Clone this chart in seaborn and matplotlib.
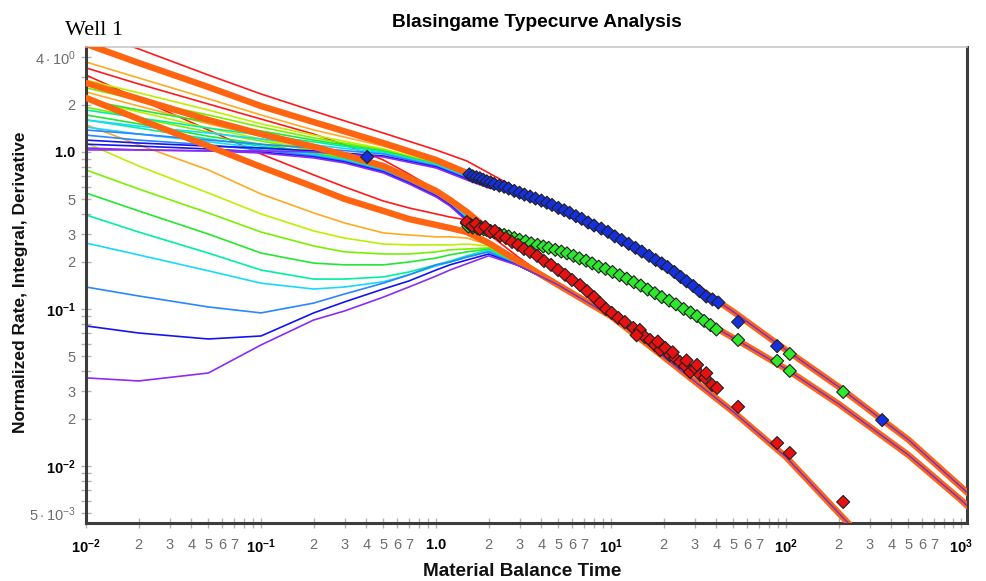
import matplotlib
matplotlib.use("Agg")
import matplotlib.pyplot as plt
import pandas as pd
import seaborn as sns
from matplotlib.ticker import FixedLocator, FixedFormatter

# ------------------------------------------------------------------ data
curve_names = ["red", "orange", "yellowgreen", "chartreuse", "green",
               "springgreen", "cyan", "azure", "blue", "violet"]
curve_colors = ["#ff1a1a", "#ffaa22", "#bdf000", "#78f000", "#22e830",
                "#00f0a0", "#18d8ff", "#2a86ff", "#1414f0", "#8c2cf0"]
match_color = "#ff6410"

# rate-integral type curves (upper stem)
integral_t = [0.01, 0.02, 0.05, 0.1, 0.2, 0.5, 1.0, 1.5, 2.0, 3.0]
integral_q = [
    [5.98, 4.53, 3.09, 2.34, 1.82, 1.32, 1.03, 0.876, 0.735, 0.573],
    [3.74, 2.96, 2.18, 1.72, 1.38, 1.09, 0.864, 0.714, 0.635, 0.548],
    [2.87, 2.38, 1.85, 1.51, 1.28, 1.045, 0.851, 0.714, 0.635, 0.548],
    [2.56, 2.14, 1.72, 1.44, 1.23, 1.03, 0.839, 0.703, 0.626, 0.548],
    [2.14, 1.85, 1.55, 1.36, 1.19, 1.015, 0.839, 0.703, 0.626, 0.548],
    [1.85, 1.65, 1.42, 1.28, 1.16, 1.0, 0.826, 0.693, 0.616, 0.548],
    [1.60, 1.46, 1.32, 1.21, 1.11, 0.985, 0.826, 0.693, 0.616, 0.548],
    [1.38, 1.30, 1.19, 1.12, 1.06, 0.971, 0.814, 0.683, 0.607, 0.548],
    [1.19, 1.14, 1.09, 1.06, 1.015, 0.943, 0.803, 0.673, 0.599, 0.548],
    [1.03, 1.03, 1.015, 1.015, 1.0, 0.929, 0.791, 0.663, 0.590, 0.548],
]
integral_match_q = [4.87, 3.69, 2.59, 1.96, 1.55, 1.14, 0.889, 0.735, 0.654, 0.548]
integral_stem_t = [5, 10, 20, 50, 100, 200, 500, 1000, 1100]
integral_stem_q = [0.44, 0.30, 0.191, 0.096, 0.0548, 0.0319, 0.0147, 0.00735, 0.00668]

# rate type curves (middle stem)
rate_t = [0.01, 0.02, 0.05, 0.1, 0.2, 0.3, 0.5, 0.7, 1.0, 1.2, 1.5, 2.0]
rate_q = [
    [3.43, 2.71, 2.02, 1.62, 1.30, 1.11, 0.889, 0.724, 0.573, 0.495, 0.403, 0.319],
    [2.41, 1.96, 1.51, 1.26, 1.06, 0.943, 0.803, 0.673, 0.556, 0.487, 0.409, 0.319],
    [2.14, 1.80, 1.42, 1.21, 1.03, 0.929, 0.791, 0.663, 0.548, 0.480, 0.403, 0.319],
    [1.93, 1.65, 1.34, 1.175, 1.015, 0.916, 0.779, 0.663, 0.548, 0.480, 0.397, 0.319],
    [1.72, 1.51, 1.26, 1.12, 0.985, 0.902, 0.768, 0.654, 0.540, 0.473, 0.391, 0.319],
    [1.60, 1.42, 1.21, 1.09, 0.971, 0.889, 0.768, 0.654, 0.540, 0.473, 0.385, 0.319],
    [1.44, 1.30, 1.16, 1.06, 0.957, 0.889, 0.757, 0.644, 0.532, 0.466, 0.380, 0.319],
    [1.28, 1.19, 1.11, 1.03, 0.943, 0.876, 0.757, 0.644, 0.532, 0.460, 0.374, 0.319],
    [1.12, 1.09, 1.045, 1.0, 0.929, 0.864, 0.746, 0.635, 0.524, 0.460, 0.369, 0.319],
    [1.06, 1.03, 1.015, 0.985, 0.916, 0.851, 0.735, 0.626, 0.517, 0.453, 0.363, 0.319],
]
rate_match_q = [2.75, 2.18, 1.60, 1.30, 1.08, 0.957, 0.814, 0.683, 0.565, 0.495, 0.415, 0.319]
rate_stem_t = [3, 5, 10, 20, 50, 100, 200, 500, 1000, 1100]
rate_stem_q = [0.275, 0.234, 0.172, 0.1175, 0.0654, 0.0415, 0.0248, 0.01175, 0.00607, 0.0055]

# rate-integral-derivative type curves (lower stem)
deriv_t = [0.01, 0.02, 0.05, 0.1, 0.2, 0.3, 0.5, 0.7, 1.0, 1.2, 1.5, 2.0, 3.0]
deriv_q = [
    [3.09, 2.18, 1.38, 0.971, 0.714, 0.599, 0.487, 0.440, 0.403, 0.385, 0.369, 0.300, 0.211],
    [1.49, 1.11, 0.768, 0.540, 0.409, 0.353, 0.305, 0.296, 0.288, 0.288, 0.283, 0.256, 0.188],
    [1.14, 0.814, 0.548, 0.403, 0.314, 0.283, 0.259, 0.256, 0.256, 0.256, 0.259, 0.252, 0.188],
    [0.768, 0.581, 0.409, 0.309, 0.252, 0.231, 0.224, 0.224, 0.231, 0.238, 0.241, 0.245, 0.188],
    [0.548, 0.421, 0.300, 0.227, 0.196, 0.191, 0.191, 0.199, 0.211, 0.221, 0.231, 0.241, 0.188],
    [0.397, 0.309, 0.227, 0.177, 0.155, 0.155, 0.160, 0.172, 0.191, 0.202, 0.218, 0.238, 0.188],
    [0.263, 0.221, 0.175, 0.146, 0.134, 0.138, 0.149, 0.165, 0.188, 0.199, 0.214, 0.234, 0.188],
    [0.138, 0.121, 0.103, 0.0944, 0.109, 0.1246, 0.146, 0.165, 0.191, 0.199, 0.214, 0.231, 0.188],
    [0.078, 0.0703, 0.0644, 0.0673, 0.0944, 0.1109, 0.134, 0.1508, 0.177, 0.191, 0.205, 0.224, 0.188],
    [0.0364, 0.0348, 0.0391, 0.059, 0.0851, 0.0971, 0.119, 0.138, 0.162, 0.177, 0.194, 0.218, 0.188],
]
deriv_match_q = [2.21, 1.62, 1.09, 0.803, 0.599, 0.502, 0.421, 0.374, 0.343, 0.328, 0.309, 0.263, 0.199]
deriv_stem_t = [5, 10, 20, 50, 100, 200, 300]
deriv_stem_q = [0.142, 0.090, 0.0495, 0.0221, 0.0114, 0.00501, 0.0031]

# measured well data
integral_data_t = [0.404, 1.55, 1.62, 1.7, 1.78, 1.86, 1.95, 2.05, 2.15, 2.3, 2.45,
                   2.6, 2.8, 3.0, 3.2, 3.45, 3.7, 4.0, 4.3, 4.6, 5.0,
                   5.4, 5.8, 6.3, 6.8, 7.4, 8.0, 8.8, 9.6, 10.5, 11.5,
                   12.6, 13.8, 15.0, 16.5, 18, 19.5, 21, 23, 25, 27,
                   29.5, 32, 35, 38, 41, 53.2, 88.9, 354]
integral_data_q = [0.929, 0.72, 0.70, 0.69, 0.68, 0.665, 0.65, 0.64, 0.625, 0.61, 0.60,
                   0.585, 0.565, 0.55, 0.535, 0.52, 0.505, 0.49, 0.475, 0.46, 0.44,
                   0.425, 0.41, 0.39, 0.375, 0.355, 0.34, 0.325, 0.31, 0.29, 0.275,
                   0.26, 0.245, 0.232, 0.218, 0.205, 0.195, 0.185, 0.172, 0.16, 0.15,
                   0.14, 0.13, 0.12, 0.115, 0.11, 0.0826, 0.058, 0.0196]
rate_data_t = [1.50, 1.53, 1.57, 1.62, 1.67, 1.73, 1.80, 1.87, 1.95,
               2.05, 2.15, 2.3, 2.45, 2.6, 2.8, 3.0, 3.25, 3.5, 3.8,
               4.1, 4.4, 4.8, 5.2, 5.6, 6.1, 6.6, 7.2, 7.8, 8.5,
               9.3, 10.2, 11.2, 12.3, 13.5, 14.8, 16.2, 17.8, 19.5, 21.5,
               23.5, 26, 28.5, 31, 34, 37, 40, 53.2, 88.9, 105, 105, 212]
rate_data_q = [0.352, 0.335, 0.345, 0.33, 0.338, 0.326, 0.332, 0.322, 0.318,
               0.314, 0.308, 0.30, 0.296, 0.29, 0.283, 0.276, 0.27, 0.262, 0.256,
               0.25, 0.245, 0.238, 0.232, 0.226, 0.218, 0.21, 0.203, 0.195, 0.186,
               0.18, 0.172, 0.164, 0.156, 0.148, 0.141, 0.133, 0.126, 0.119, 0.113,
               0.107, 0.10, 0.095, 0.09, 0.084, 0.079, 0.074, 0.0635, 0.0467, 0.0517, 0.0403, 0.0296]
deriv_data_t = [1.50, 1.61, 1.69, 1.78, 1.91, 2.04, 2.17, 2.32, 2.51, 2.72,
                2.94, 3.18, 3.44, 3.78, 4.14, 4.54, 4.98, 5.46, 5.98, 6.65,
                7.29, 8.00, 8.65, 9.36, 10.1, 11.0, 12.0, 13.4, 14.6, 15.6,
                16.7, 17.8, 19.1, 20.4, 21.7, 23.2, 24.8, 26.5, 28.3, 30.2,
                32.3, 34.4, 37.8, 40.3, 14.0, 18.5, 22.5, 27.0, 31.0, 35.0,
                53.2, 88.9, 105, 212]
deriv_data_q = [0.358, 0.338, 0.348, 0.323, 0.333, 0.309, 0.314, 0.292, 0.283, 0.267,
                0.256, 0.241, 0.231, 0.218, 0.202, 0.191, 0.177, 0.165, 0.153, 0.142,
                0.130, 0.119, 0.109, 0.100, 0.0944, 0.0877, 0.0826, 0.0757, 0.0735, 0.0664,
                0.0635, 0.059, 0.0548, 0.0565, 0.0509, 0.0488, 0.0459, 0.0433, 0.0397, 0.0421,
                0.038, 0.0364, 0.0328, 0.0314, 0.068, 0.062, 0.053, 0.047, 0.044, 0.039,
                0.0238, 0.0140, 0.0121, 0.0059]
data_colors = {"integral": "#1530e0", "rate": "#2ee82e", "derivative": "#e81010"}

# tick labels
x_major = [0.01, 0.1, 1.0, 10, 100, 1000]
x_major_labels = [r"$\mathbf{10^{-2}}$", r"$\mathbf{10^{-1}}$", r"$\mathbf{1.0}$",
                  r"$\mathbf{10^{1}}$", r"$\mathbf{10^{2}}$", r"$\mathbf{10^{3}}$"]
minor_digits = [2, 3, 4, 5, 6, 7, 8, 9]
x_minor_digit_labels = ["2", "3", "4", "5", "6", "7", "", ""]
y_major = [0.01, 0.1, 1.0]
y_major_labels = [r"$\mathbf{10^{-2}}$", r"$\mathbf{10^{-1}}$", r"$\mathbf{1.0}$"]
y_minor = [0.005, 0.006, 0.007, 0.008, 0.009,
           0.02, 0.03, 0.04, 0.05, 0.06, 0.07, 0.08, 0.09,
           0.2, 0.3, 0.4, 0.5, 0.6, 0.7, 0.8, 0.9,
           2, 3, 4]
y_minor_labels = [r"$5\cdot10^{-3}$", "", "", "", "",
                  "2", "3", "", "5", "", "", "", "",
                  "2", "3", "", "5", "", "", "", "",
                  "2", "", r"$4\cdot10^{0}$"]

# ------------------------------------------------------------------ frames
rows = []
for fam, ts, qs, st, sq in [("integral", integral_t, integral_q, integral_stem_t, integral_stem_q),
                            ("rate", rate_t, rate_q, rate_stem_t, rate_stem_q),
                            ("derivative", deriv_t, deriv_q, deriv_stem_t, deriv_stem_q)]:
    for name, q in zip(curve_names, qs):
        for t, v in zip(list(ts) + list(st), list(q) + list(sq)):
            rows.append((fam, name, t, v))
thin = pd.DataFrame(rows, columns=["family", "curve", "t", "q"])

rows = []
for fam, ts, q, st, sq in [("integral", integral_t, integral_match_q, integral_stem_t, integral_stem_q),
                           ("rate", rate_t, rate_match_q, rate_stem_t, rate_stem_q),
                           ("derivative", deriv_t, deriv_match_q, deriv_stem_t, deriv_stem_q)]:
    for t, v in zip(list(ts) + list(st), list(q) + list(sq)):
        rows.append((fam, t, v))
thick = pd.DataFrame(rows, columns=["family", "t", "q"])

rows = []
for fam, st, sq in [("integral", [3.0] + integral_stem_t, [0.548] + integral_stem_q),
                    ("rate", [2.0] + rate_stem_t, [0.319] + rate_stem_q),
                    ("derivative", [3.0] + deriv_stem_t, [0.188] + deriv_stem_q)]:
    for t, v in zip(st, sq):
        rows.append((fam, t, v))
stems = pd.DataFrame(rows, columns=["family", "t", "q"])

pts = pd.concat([
    pd.DataFrame({"t": integral_data_t, "q": integral_data_q, "series": "integral"}),
    pd.DataFrame({"t": rate_data_t, "q": rate_data_q, "series": "rate"}),
    pd.DataFrame({"t": deriv_data_t, "q": deriv_data_q, "series": "derivative"}),
], ignore_index=True)

# ------------------------------------------------------------------ plot
sns.set_theme(style="white")
plt.rcParams["font.family"] = ["Liberation Sans", "DejaVu Sans"]
plt.rcParams["mathtext.fontset"] = "custom"
plt.rcParams["mathtext.rm"] = "Liberation Sans"
plt.rcParams["mathtext.it"] = "Liberation Sans:italic"
plt.rcParams["mathtext.bf"] = "Liberation Sans:bold"

fig = plt.figure(figsize=(9.86, 5.81), dpi=100)
W, H = 986, 581
ax = fig.add_axes([86 / W, 1 - 523 / H, (967 - 86) / W, (523 - 47) / H])

palette = dict(zip(curve_names, curve_colors))
sns.lineplot(data=thin, x="t", y="q", hue="curve", units="family", estimator=None,
             palette=palette, linewidth=1.2, legend=False, ax=ax, zorder=2)
sns.lineplot(data=thick, x="t", y="q", units="family", estimator=None,
             color=match_color, linewidth=4.6, legend=False, ax=ax, zorder=3)
sns.lineplot(data=stems, x="t", y="q", units="family", estimator=None,
             color="#6a30e8", linewidth=1.0, legend=False, ax=ax, zorder=4)
sns.scatterplot(data=pts, x="t", y="q", hue="series", palette=data_colors,
                marker="D", s=44, edgecolor="#202020", linewidth=0.8,
                legend=False, ax=ax, zorder=5)

ax.set_xscale("log")
ax.set_yscale("log")
ax.set_xlim(0.01, 1081)
ax.set_ylim(0.004335, 4.66)

x_minor = []
x_minor_labels = []
for dec in x_major[:-1]:
    for d, lab in zip(minor_digits, x_minor_digit_labels):
        x_minor.append(d * dec)
        x_minor_labels.append(lab)

ax.xaxis.set_major_locator(FixedLocator(x_major))
ax.xaxis.set_major_formatter(FixedFormatter(x_major_labels))
ax.xaxis.set_minor_locator(FixedLocator(x_minor))
ax.xaxis.set_minor_formatter(FixedFormatter(x_minor_labels))
ax.yaxis.set_major_locator(FixedLocator(y_major))
ax.yaxis.set_major_formatter(FixedFormatter(y_major_labels))
ax.yaxis.set_minor_locator(FixedLocator(y_minor))
ax.yaxis.set_minor_formatter(FixedFormatter(y_minor_labels))

ax.tick_params(axis="both", which="both", direction="inout", length=7, width=1.0,
               color="#b4b4b4", bottom=True, left=True, top=False, right=False)
ax.tick_params(axis="x", which="both", pad=7)
ax.tick_params(axis="y", which="both", pad=4)
ax.tick_params(which="major", labelsize=10.5, labelcolor="black")
ax.tick_params(which="minor", labelsize=10.5, labelcolor="#6e6e6e")

ax.set_xlabel("")
ax.set_ylabel("")
ax.grid(False)
for side in ["left", "bottom", "right"]:
    ax.spines[side].set_color("#3c3c3c")
    ax.spines[side].set_linewidth(2.2)
ax.spines["top"].set_color("#c8c8c8")
ax.spines["top"].set_linewidth(1.2)

fig.text(537 / W, 1 - 27 / H, "Blasingame Typecurve Analysis", ha="center",
         va="baseline", fontsize=13.8, fontweight="bold", color="black")
fig.text(65 / W, 1 - 35 / H, "Well 1", ha="left", va="baseline", fontsize=16,
         family=["Liberation Serif", "DejaVu Serif"], color="black")
fig.text(522 / W, 1 - 576 / H, "Material Balance Time", ha="center", va="baseline",
         fontsize=13.6, fontweight="bold", color="#111111")
fig.text(21 / W, 1 - 282 / H, "Normalized Rate, Integral, Derivative", ha="center",
         va="center", rotation=90, fontsize=12.5, fontweight="bold", color="#111111")

fig.savefig("out.png", dpi=100)
